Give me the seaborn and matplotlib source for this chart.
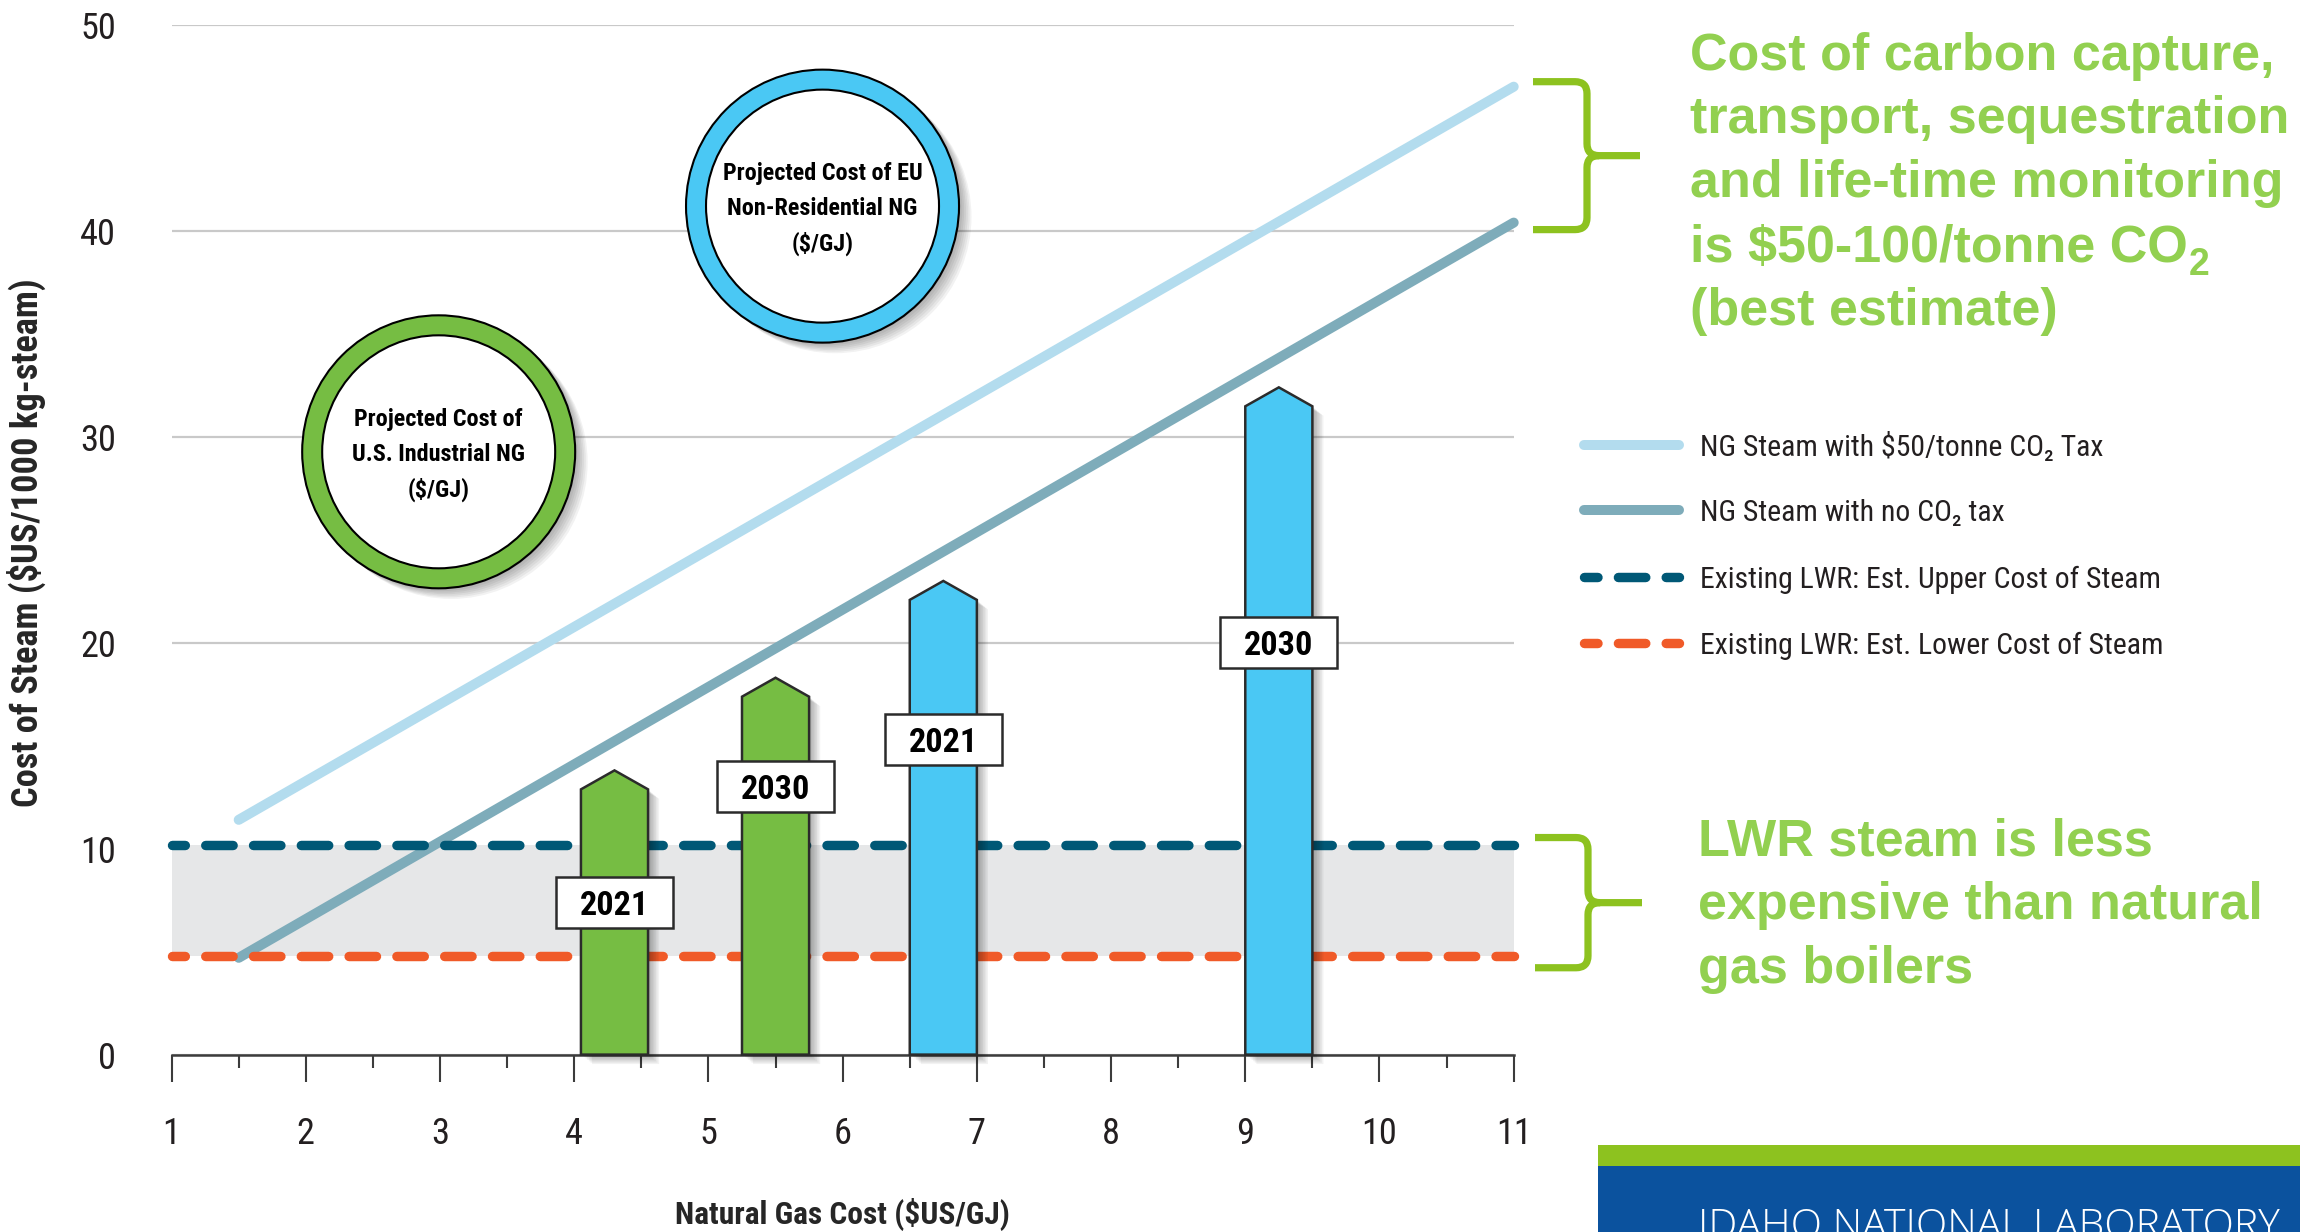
import numpy as np
import pandas as pd
import matplotlib
matplotlib.use("Agg")
import matplotlib.pyplot as plt
import seaborn as sns
from matplotlib import font_manager as fm
from matplotlib.font_manager import FontProperties
from matplotlib.patches import Rectangle, Ellipse, PathPatch
from matplotlib.path import Path
from matplotlib.lines import Line2D
import matplotlib.patheffects as pe

# ---------------- data ----------------
gas_cost_span = [1.5, 11.0]            # $US/GJ
steam_ng_co2_tax = [11.4, 47.0]        # NG steam with $50/tonne CO2 tax
steam_ng_no_tax = [4.7, 40.4]          # NG steam, no CO2 tax
lwr_span = [1.0, 11.0]
lwr_upper_cost = 10.2
lwr_lower_cost = 4.8

proj_region = ["U.S.", "U.S.", "EU", "EU"]
proj_year = ["2021", "2030", "2021", "2030"]
proj_gas_low = [4.05, 5.25, 6.5, 9.0]
proj_gas_high = [4.55, 5.75, 7.0, 9.5]
proj_arrow_top = [13.8, 18.3, 23.0, 32.4]

x_ticks = list(range(1, 12))
y_ticks = [0, 10, 20, 30, 40, 50]

series_labels = ["NG Steam with $50/tonne CO\u2082 Tax",
                 "NG Steam with no CO\u2082 tax",
                 "Existing LWR: Est. Upper Cost of Steam",
                 "Existing LWR: Est. Lower Cost of Steam"]

# ---------------- styling ----------------
C_TAX = "#b3dcee"
C_NOTAX = "#7eacba"
C_UPPER = "#005876"
C_LOWER = "#f05a28"
C_BAND = "#e6e7e8"
C_GRID = "#c9c9c9"
C_INK = "#231f20"
C_GREEN = "#76bd43"
C_BLUE = "#4ac8f4"
C_NOTE = "#92d050"
C_BRACE = "#8dc21f"
C_INL_BLUE = "#0b529e"
region_color = {"U.S.": C_GREEN, "EU": C_BLUE}

sns.set_theme(style="white")
names = {f.name for f in fm.fontManager.ttflist}


def pick(*cands):
    for c in cands:
        if c in names:
            return c
    return "DejaVu Sans"


SANS = pick("Liberation Sans", "Arial")
LIGHT = pick("Open Sans", "Lato", "Noto Sans")


def narrow_face(bold):
    """Find a condensed sans face; fall back to a regular one."""
    ranked = []
    for f in fm.fontManager.ttflist:
        nm, path = f.name.lower(), f.fname.lower()
        if f.style != "normal" or "italic" in path or "oblique" in path:
            continue
        cond = (str(f.stretch) in ("condensed", "semi-condensed", "extra-condensed",
                                   "ultra-condensed")
                or "narrow" in nm or "condensed" in nm
                or "narrow" in path or "condensed" in path)
        if not cond or "mono" in nm:
            continue
        try:
            w = int(f.weight)
        except (TypeError, ValueError):
            w = 700 if "bold" in str(f.weight) else 400
        if bold != (w >= 600):
            continue
        if bold and w > 750:
            continue
        if not bold and w < 350:
            continue
        if "extracondensed" in path or "extra-condensed" in str(f.stretch) \
                or "semicondensed" in path or "semi-condensed" in str(f.stretch):
            pen = 1
        else:
            pen = 0
        if "liberation sans narrow" in nm:
            score = 0
        elif "noto sans" in nm and "cjk" not in nm and nm.strip() in ("noto sans", "noto sans condensed"):
            score = 1
        elif "roboto" in nm:
            score = 2
        elif "dejavu" in nm:
            score = 3
        else:
            score = 4
        ranked.append((score, pen, f.fname))
    if ranked:
        ranked.sort()
        return FontProperties(fname=ranked[0][2]), True
    return FontProperties(family=SANS, weight="bold" if bold else "normal"), False


FP_REG, HAVE_NARROW = narrow_face(False)
FP_BOLD, _ = narrow_face(True)
if not _:
    FP_BOLD = FontProperties(family=SANS, weight="bold")
plt.rcParams["font.family"] = [SANS, "DejaVu Sans"]
plt.rcParams["text.color"] = C_INK


def fp(base, size):
    p = base.copy()
    p.set_size(size)
    return p


W, H = 2300, 1232
fig = plt.figure(figsize=(W / 100, H / 100), dpi=100)
renderer = fig.canvas.get_renderer()
AX_X0, AX_X1 = 171.6, 1513.7
AX_Y_TOP, AX_Y_BOT = 24.9, 1054.6
ax = fig.add_axes([AX_X0 / W, 1 - AX_Y_BOT / H,
                   (AX_X1 - AX_X0) / W, (AX_Y_BOT - AX_Y_TOP) / H])
ax.set_xlim(1, 11)
ax.set_ylim(0, 50)
SX = (AX_X1 - AX_X0) / 10.0
SY = (AX_Y_BOT - AX_Y_TOP) / 50.0


def fx(px):
    return px / W


def fy(py):
    return 1 - py / H


def py_of(v):
    return AX_Y_BOT - v * SY


def fitted_size(base, sample, size, target_px, mode="mix"):
    """Font size so that `sample` spans about target_px (mixed with the nominal size)."""
    t = fig.text(0, 0, sample, fontproperties=fp(base, size))
    w = t.get_window_extent(renderer).width
    t.remove()
    s_fit = size * target_px / w
    if mode == "width":
        return s_fit
    return min(size, (s_fit * size) ** 0.5) if s_fit < size else s_fit


def soft_shadow(depth=7.0, alpha=0.05, n=7):
    effects = [pe.SimplePatchShadow(offset=(d, -d * 0.85), shadow_rgbFace="black", alpha=alpha)
               for d in np.linspace(depth, 1.0, n)]
    return effects + [pe.Normal()]


# ---------------- background: band and grid ----------------
ax.fill_between(lwr_span, lwr_lower_cost, lwr_upper_cost, color=C_BAND, lw=0, zorder=1)
ax.set_yticks(y_ticks)
ax.set_xticks(x_ticks)
ax.set_xticks(np.arange(1.5, 11, 1.0), minor=True)
ax.grid(axis="y", color=C_GRID, lw=1.6)
ax.grid(axis="x", visible=False)
ax.set_axisbelow(True)

# ---------------- NG steam lines ----------------
ng = pd.DataFrame({
    "gas": gas_cost_span + gas_cost_span,
    "steam": steam_ng_co2_tax + steam_ng_no_tax,
    "case": [series_labels[0]] * 2 + [series_labels[1]] * 2,
})
sns.lineplot(data=ng, x="gas", y="steam", hue="case",
             palette={series_labels[0]: C_TAX, series_labels[1]: C_NOTAX},
             linewidth=7.2, solid_capstyle="round", legend=False, ax=ax, zorder=3)
for ln in ax.lines:
    ln.set_clip_on(False)

# ---------------- LWR dashed lines ----------------
DASH_LW = 6.8
dash_style = (1.54, (2.9, 2.16))
for val, col in [(lwr_upper_cost, C_UPPER), (lwr_lower_cost, C_LOWER)]:
    ax.plot(lwr_span, [val, val], color=col, lw=DASH_LW, linestyle=dash_style,
            dash_capstyle="round", zorder=4, clip_on=False)

# ---------------- projected gas cost arrows ----------------
HEAD = 0.92
BOX_W, BOX_H = 117 / SX, 51 / SY
label_y = [7.4, 13.0, 15.3, 20.0]
bar_fs = fitted_size(FP_BOLD, "2021", 26, 66)
for reg, yr, lo, hi, top, ly in zip(proj_region, proj_year, proj_gas_low,
                                    proj_gas_high, proj_arrow_top, label_y):
    mid = (lo + hi) / 2
    polys = ax.fill([lo, lo, mid, hi, hi], [0, top - HEAD, top, top - HEAD, 0],
                    facecolor=region_color[reg], edgecolor="#2b2b2b", lw=1.8,
                    zorder=6, clip_on=False)
    for p in polys:
        p.set_path_effects(soft_shadow(8.0, 0.05))
        p.set_joinstyle("miter")
    ax.add_patch(Rectangle((mid - BOX_W / 2, ly - BOX_H / 2), BOX_W, BOX_H,
                           facecolor="white", edgecolor="#2b2b2b", lw=1.8, zorder=7))
    ax.text(mid, ly, yr, ha="center", va="center_baseline",
            fontproperties=fp(FP_BOLD, bar_fs), color="black", zorder=8)

# ---------------- rings ----------------
R_OUT, RING = 136.5, 20.0
rings = [
    ((2.99, 29.27), C_GREEN, ["Projected Cost of", "U.S. Industrial NG", "($/GJ)"]),
    ((5.85, 41.20), C_BLUE, ["Projected Cost of EU", "Non-Residential NG", "($/GJ)"]),
]
ring_fs = fitted_size(FP_BOLD, "Projected Cost of EU", 17.5, 200, mode="width")
for (cx, cy), col, lines in rings:
    outer = Ellipse((cx, cy), 2 * R_OUT / SX, 2 * R_OUT / SY, facecolor=col,
                    edgecolor="black", lw=1.5, zorder=9)
    outer.set_path_effects(soft_shadow(9.0, 0.05))
    ax.add_patch(outer)
    r_in = R_OUT - RING
    ax.add_patch(Ellipse((cx, cy), 2 * r_in / SX, 2 * r_in / SY, facecolor="white",
                         edgecolor="black", lw=1.5, zorder=10))
    for i, t in enumerate(lines):
        ax.text(cx, cy + (1 - i) * 35 / SY, t, ha="center", va="center_baseline",
                fontproperties=fp(FP_BOLD, ring_fs), color="black", zorder=11)

# ---------------- axes decoration ----------------
for s in ["top", "right", "left"]:
    ax.spines[s].set_visible(False)
ax.spines["bottom"].set_color("#3c3c3c")
ax.spines["bottom"].set_linewidth(1.8)
ax.spines["bottom"].set_zorder(5)
tick_fs = fitted_size(FP_REG, "50", 24, 36, mode="width")
ax.tick_params(axis="x", which="major", direction="out", length=19.4, width=1.5,
               color="#3c3c3c", pad=25, labelcolor=C_INK, bottom=True)
ax.tick_params(axis="x", which="minor", direction="out", length=9.6, width=1.5,
               color="#3c3c3c", bottom=True)
ax.tick_params(axis="y", length=0, pad=40, labelcolor=C_INK)
ax.set_xticklabels([str(v) for v in x_ticks])
ax.set_yticklabels([str(v) for v in y_ticks])
for lbl in ax.get_xticklabels() + ax.get_yticklabels():
    lbl.set_fontproperties(fp(FP_REG, tick_fs))

xl_fs = fitted_size(FP_BOLD, "Natural Gas Cost ($US/GJ)", 22, 334)
yl_fs = fitted_size(FP_BOLD, "Cost of Steam ($US/1000 kg-steam)", 22, 528)
ax.set_xlabel("Natural Gas Cost ($US/GJ)", fontproperties=fp(FP_BOLD, xl_fs), va="center")
ax.xaxis.set_label_coords(0.5, -0.155)
ax.set_ylabel("Cost of Steam ($US/1000 kg-steam)", fontproperties=fp(FP_BOLD, yl_fs),
              va="center")
ax.yaxis.set_label_coords(-0.1085, 0.497)

# ---------------- legend ----------------
leg_rows = [445, 510, 577, 643]
leg_styles = [
    dict(color=C_TAX, lw=7.2, solid_capstyle="round"),
    dict(color=C_NOTAX, lw=7.2, solid_capstyle="round"),
    dict(color=C_UPPER, lw=DASH_LW, linestyle=(1.47, (2.9, 2.16)), dash_capstyle="round"),
    dict(color=C_LOWER, lw=DASH_LW, linestyle=(1.47, (2.9, 2.16)), dash_capstyle="round"),
]
leg_fs = fitted_size(FP_REG, "Existing LWR: Est. Upper Cost of Steam", 24.5, 460, mode="width")
for row, lab, sty in zip(leg_rows, series_labels, leg_styles):
    fig.add_artist(Line2D([fx(1584), fx(1679)], [fy(row), fy(row)],
                          transform=fig.transFigure, **sty))
    fig.text(fx(1700), fy(row + 0.36 * leg_fs * 100 / 72), lab,
             fontproperties=fp(FP_REG, leg_fs), va="baseline", ha="left", color=C_INK)

# ---------------- braces ----------------
def brace(x0, xs, xtip, yt, yb, r=12.0):
    ym = (yt + yb) / 2
    pts = [((x0, yt), Path.MOVETO), ((xs - r, yt), Path.LINETO),
           ((xs, yt), Path.CURVE3), ((xs, yt + r), Path.CURVE3),
           ((xs, ym - r), Path.LINETO),
           ((xs, ym), Path.CURVE3), ((xs + r, ym), Path.CURVE3),
           ((xtip, ym), Path.LINETO),
           ((xs + r, ym), Path.MOVETO),
           ((xs, ym), Path.CURVE3), ((xs, ym + r), Path.CURVE3),
           ((xs, yb - r), Path.LINETO),
           ((xs, yb), Path.CURVE3), ((xs - r, yb), Path.CURVE3),
           ((x0, yb), Path.LINETO)]
    verts = [(fx(p[0]), fy(p[1])) for p, _ in pts]
    codes = [c for _, c in pts]
    fig.add_artist(PathPatch(Path(verts, codes), transform=fig.transFigure,
                             fill=False, edgecolor=C_BRACE, lw=5.2, capstyle="butt",
                             joinstyle="round"))


brace(1533, 1587, 1640, py_of(steam_ng_co2_tax[-1]) - 5, py_of(steam_ng_no_tax[-1]) + 7)
brace(1535, 1588, 1642, py_of(lwr_upper_cost) - 7, py_of(lwr_lower_cost) + 12)

# ---------------- notes ----------------
NOTE_FS = 37.5
note_kw = dict(fontsize=NOTE_FS, fontweight="bold", color=C_NOTE,
               family=[SANS, "DejaVu Sans"], va="baseline", ha="left")
note1 = ["Cost of carbon capture,", "transport, sequestration",
         "and life-time monitoring", "is $50-100/tonne CO", "(best estimate)"]
base1 = [70, 133, 197, 262, 325]
for txt, b in zip(note1, base1):
    t = fig.text(fx(1690), fy(b), txt, **note_kw)
    if txt.endswith("CO"):
        bb = t.get_window_extent(renderer)
        fig.text(bb.x1 / W + fx(1), fy(b + 13), "2", fontsize=27, fontweight="bold",
                 color=C_NOTE, family=[SANS, "DejaVu Sans"], va="baseline", ha="left")
note2 = ["LWR steam is less", "expensive than natural", "gas boilers"]
base2 = [855, 919, 983]
for txt, b in zip(note2, base2):
    fig.text(fx(1698), fy(b), txt, **note_kw)

# ---------------- lab banner ----------------
fig.add_artist(Rectangle((fx(1598), fy(1166)), 1 - fx(1598), fy(1145) - fy(1166),
                         transform=fig.transFigure, facecolor=C_BRACE, lw=0))
fig.add_artist(Rectangle((fx(1598), 0), 1 - fx(1598), fy(1166),
                         transform=fig.transFigure, facecolor=C_INL_BLUE, lw=0))
lab = fig.text(fx(1698), 0, "IDAHO NATIONAL LABORATORY", fontsize=30, color="white",
               family=[LIGHT, "DejaVu Sans"], fontweight="light", va="baseline", ha="left")
w = lab.get_window_extent(renderer).width
fs = 30 * 582 / w
lab.set_fontsize(fs)
lab.set_y(fy(1208 + 0.72 * fs * 100 / 72))

fig.savefig("out.png", dpi=100, facecolor="white")
